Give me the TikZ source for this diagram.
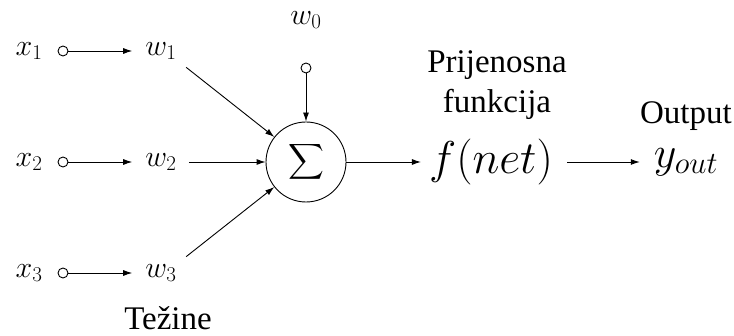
\RequirePackage{fix-cm}
\documentclass[tikz,border=0pt]{standalone}
\usepackage{exscale}
\usepackage{fontspec}
\setmainfont{Liberation Serif}
\newfontfamily\labelfont{Liberation Serif}
\usetikzlibrary{arrows.meta}
\begin{document}
\begin{tikzpicture}[x=1pt,y=-1pt,
  mlbl/.style={inner sep=0pt, font=\fontsize{30}{36}\selectfont},
  tlbl/.style={inner sep=0pt, anchor=base, font=\labelfont\fontsize{33}{40}\selectfont},
  biglbl/.style={inner sep=0pt, font=\fontsize{46}{55}\selectfont},
  outlbl/.style={inner sep=0pt, font=\fontsize{44}{52}\selectfont},
  port/.style={circle, draw, fill=white, minimum size=10pt, inner sep=0pt, line width=0.9pt},
  sumnode/.style={circle, draw, minimum size=80pt, inner sep=0pt, line width=0.9pt, font=\fontsize{31}{36}\selectfont},
  arr/.style={-{Latex[length=9pt,width=6pt]}, line width=0.9pt}]
\useasboundingbox (0,0) rectangle (734,336);
% inputs
\node[mlbl] (x1) at (29,51) {$x_1$};
\node[mlbl] (x2) at (29,162) {$x_2$};
\node[mlbl] (x3) at (29,273) {$x_3$};
\node[port] (c1) at (63,51) {};
\node[port] (c2) at (63,162) {};
\node[port] (c3) at (63,273) {};
\node[mlbl] (w1) at (161,51) {$w_1$};
\node[mlbl] (w2) at (161,162) {$w_2$};
\node[mlbl] (w3) at (161,273) {$w_3$};
\draw[arr, shorten >=13pt] (c1) -- (w1);
\draw[arr, shorten >=13pt] (c2) -- (w2);
\draw[arr, shorten >=13pt] (c3) -- (w3);
% sum
\node[sumnode] (S) at (306,162) {$\displaystyle\sum$};
\node[mlbl] (w0) at (306,20) {$w_0$};
\node[port] (c0) at (306,68) {};
\draw[arr] (c0) -- (S);
\draw[arr, shorten <=12pt] (w1.south east) -- (S);
\draw[arr, shorten <=12pt] (w2) -- (S);
\draw[arr, shorten <=12pt] (w3.north east) -- (S);
% transfer and output
\node[biglbl] (f) at (491,162) {$f(net)$};
\node[outlbl] (y) at (686,162) {$y_{out}$};
\draw[arr, shorten >=8pt] (S) -- (f);
\draw[arr, shorten <=14pt, shorten >=14pt] (f) -- (y);
% text labels
\node[tlbl] (t1) at (497,73) {Prijenosna};
\node[tlbl] (t2) at (497,113) {funkcija};
\node[tlbl] (t3) at (686,124) {Output};
\node[tlbl] (t4) at (168,330) {Težine};
\end{tikzpicture}
\end{document}
